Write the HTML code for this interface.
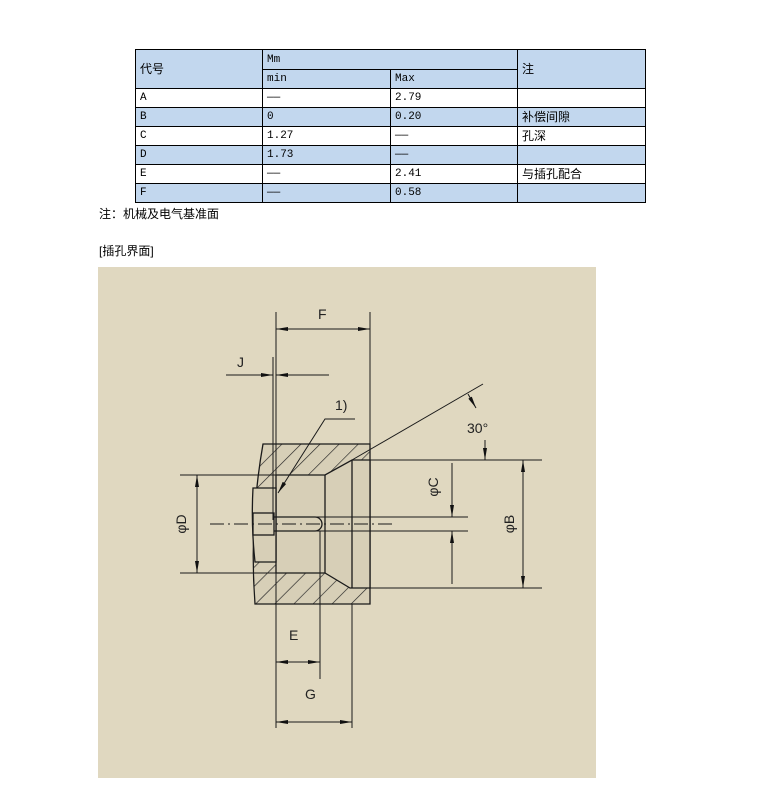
<!DOCTYPE html>
<html><head><meta charset="utf-8"><style>
body{margin:0;width:780px;height:795px;background:#fff;position:relative;font-family:"Liberation Mono","Noto Sans CJK SC",monospace;font-size:12px;color:#000;overflow:hidden}
table{position:absolute;left:135px;top:49px;border-collapse:collapse;width:511px}
td{border:1px solid #000;padding:0 4px;height:18px;line-height:18px;font-size:11px;font-family:"Liberation Mono","Noto Sans CJK SC",monospace}
.b td{background:#c2d7ee}
.t{position:absolute;font-family:"Liberation Sans","Noto Sans CJK SC",sans-serif;font-size:12px}
</style></head><body>
<table>
<colgroup><col style="width:127px"><col style="width:128px"><col style="width:127px"><col style="width:128px"></colgroup>
<tr class="b"><td rowspan="2" style="font-family:'Noto Sans CJK SC',sans-serif;font-size:12px">代号</td><td colspan="2" style="height:19px">Mm</td><td rowspan="2" style="font-family:'Noto Sans CJK SC',sans-serif;font-size:12px">注</td></tr>
<tr class="b"><td>min</td><td>Max</td></tr>
<tr><td>A</td><td>——</td><td>2.79</td><td></td></tr>
<tr class="b"><td>B</td><td>0</td><td>0.20</td><td style="font-family:'Noto Sans CJK SC',sans-serif;font-size:12px">补偿间隙</td></tr>
<tr><td>C</td><td>1.27</td><td>——</td><td style="font-family:'Noto Sans CJK SC',sans-serif;font-size:12px">孔深</td></tr>
<tr class="b"><td>D</td><td>1.73</td><td>——</td><td></td></tr>
<tr><td>E</td><td>——</td><td>2.41</td><td style="font-family:'Noto Sans CJK SC',sans-serif;font-size:12px">与插孔配合</td></tr>
<tr class="b"><td>F</td><td>——</td><td>0.58</td><td></td></tr>
</table>
<div class="t" style="left:99px;top:205px">注：机械及电气基准面</div>
<div class="t" style="left:99px;top:242px">[插孔界面]</div>
<svg style="position:absolute;left:0;top:0" width="780" height="795">
<defs>
<pattern id="h" patternUnits="userSpaceOnUse" width="13.5" height="13.5" patternTransform="rotate(45)"><rect width="13.5" height="13.5" fill="#d7cfb7"/><line x1="0" y1="0" x2="0" y2="13.5" stroke="#222" stroke-width="1.3"/></pattern>
<marker id="a" markerWidth="12" markerHeight="6" refX="12" refY="3" orient="auto-start-reverse" markerUnits="userSpaceOnUse"><path d="M0,1 L12,3 L0,5z" fill="#111"/></marker>
</defs>
<rect x="98" y="267" width="498" height="511" fill="#e0d8c0"/>
<g stroke="#1a1a1a" stroke-width="1.3" fill="none">
<path d="M263,444 L370,444 L370,604 L255,604 Q249,524 263,444Z" fill="url(#h)"/>
<path d="M276,475 L325,475 L352,460 L370,460 L370,588 L350,588 L325,573 L276,573Z" fill="#d7cfb7"/>
<path d="M253,488 L276,488 L276,562 L255,562 Q251,525 253,488Z" fill="#d7cfb7"/>
<line x1="325" y1="475" x2="325" y2="573"/>
<line x1="352" y1="460" x2="352" y2="588"/>
<rect x="253" y="513" width="21" height="22"/>
<path d="M274,517 L315,517 A7,7 0 0 1 315,531 L274,531"/>
<line x1="320" y1="531" x2="320" y2="679" stroke-width="1"/>
</g>
<g stroke="#1a1a1a" stroke-width="1" fill="none">
<line x1="210" y1="524" x2="395" y2="524" stroke-dasharray="14,4,2,4"/>
<line x1="315" y1="517" x2="468" y2="517"/><line x1="315" y1="531" x2="468" y2="531"/>
<line x1="276" y1="312" x2="276" y2="728"/>
<line x1="370" y1="312" x2="370" y2="460"/>
<line x1="273" y1="357" x2="273" y2="520"/>
<line x1="276" y1="329" x2="370" y2="329" marker-start="url(#a)" marker-end="url(#a)"/>
<line x1="226" y1="375" x2="273" y2="375" marker-end="url(#a)"/>
<line x1="329" y1="375" x2="276" y2="375" marker-end="url(#a)"/>
<polyline points="355,419 325,419 278,493" marker-end="url(#a)"/>
<line x1="352" y1="460" x2="483" y2="384"/>
<line x1="370" y1="460" x2="542" y2="460"/><line x1="370" y1="588" x2="542" y2="588"/>
<line x1="180" y1="475" x2="276" y2="475"/><line x1="180" y1="573" x2="276" y2="573"/>
<line x1="197" y1="475" x2="197" y2="573" marker-start="url(#a)" marker-end="url(#a)"/>
<line x1="523" y1="460" x2="523" y2="588" marker-start="url(#a)" marker-end="url(#a)"/>
<line x1="452" y1="463" x2="452" y2="517" marker-end="url(#a)"/>
<line x1="452" y1="584" x2="452" y2="531" marker-end="url(#a)"/>
<line x1="276" y1="662" x2="320" y2="662" marker-start="url(#a)" marker-end="url(#a)"/>
<line x1="276" y1="722" x2="352" y2="722" marker-start="url(#a)" marker-end="url(#a)"/>
<line x1="352" y1="604" x2="352" y2="728"/>
<line x1="468" y1="394" x2="476" y2="408" marker-end="url(#a)"/>
<line x1="485" y1="440" x2="485" y2="460" marker-end="url(#a)"/>
</g>
<g font-family="Liberation Sans,sans-serif" font-size="14" fill="#222">
<text x="318" y="319">F</text>
<text x="237" y="367">J</text>
<text x="335" y="410">1)</text>
<text x="467" y="433">30°</text>
<text x="289" y="640">E</text>
<text x="305" y="699">G</text>
<text transform="translate(186,524) rotate(-90)" text-anchor="middle">φD</text>
<text transform="translate(438,487) rotate(-90)" text-anchor="middle">φC</text>
<text transform="translate(514,524) rotate(-90)" text-anchor="middle">φB</text>
</g>
</svg>
</body></html>
